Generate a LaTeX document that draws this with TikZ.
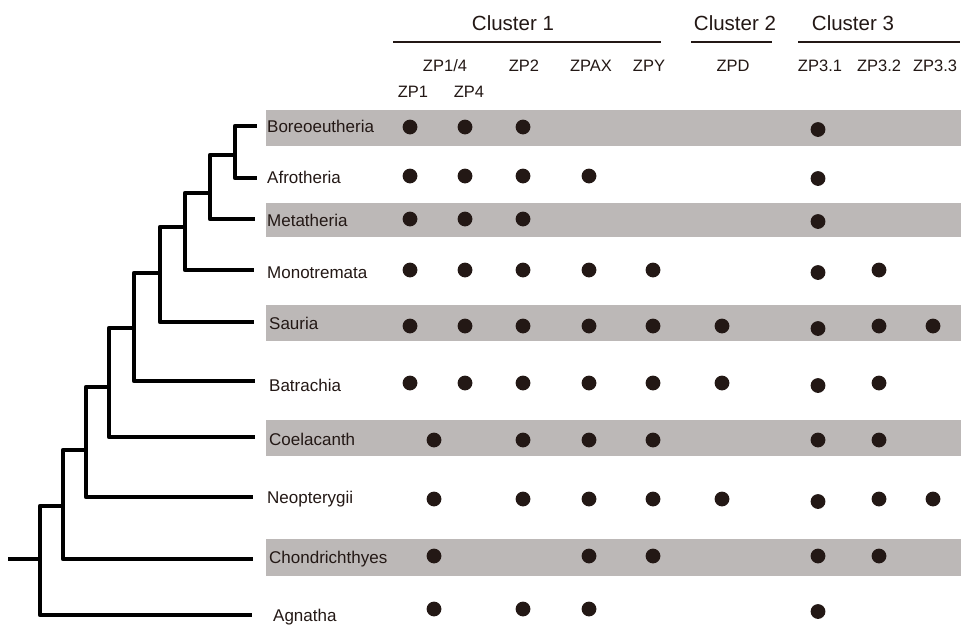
\documentclass[tikz,border=0pt]{standalone}
\usepackage{fontspec}
\setmainfont{Liberation Sans}
\definecolor{ink}{HTML}{231815}
\definecolor{bandgrey}{HTML}{BCB8B7}
\begin{document}
\begin{tikzpicture}[x=1pt,y=-1pt,
  branch/.style={line width=4.2pt,black,line join=round},
  rule/.style={line width=1.9pt,ink},
  band/.style={fill=bandgrey,draw=none},
  dot/.style={circle,fill=ink,draw=none,inner sep=0pt,minimum size=14.8pt},
  lowdot/.style={dot,yshift=-2.5pt},
  taxon/.style={anchor=base west,inner sep=0pt,text=ink,font=\fontsize{17}{19}\selectfont},
  colhead/.style={anchor=base,inner sep=0pt,text=ink,font=\fontsize{16.5}{18}\selectfont},
  cluster/.style={anchor=base,inner sep=0pt,text=ink,font=\fontsize{20.5}{24}\selectfont}]
\useasboundingbox (0,0) rectangle (961,627);
\fill[white] (0,0) rectangle (961,627);

% bands
\fill[band] (266,110) rectangle (961,146);
\fill[band] (266,203) rectangle (961,237);
\fill[band] (266,305) rectangle (961,341);
\fill[band] (266,420) rectangle (961,456);
\fill[band] (266,539) rectangle (961,576);

% cluster headers
\node[cluster] (k1) at (513,30) {Cluster 1};
\node[cluster] (k2) at (735,30) {Cluster 2};
\node[cluster] (k3) at (853,30) {Cluster 3};
\coordinate (k1a) at (393,42); \coordinate (k1b) at (661,42);
\coordinate (k2a) at (691,42); \coordinate (k2b) at (772,42);
\coordinate (k3a) at (798,42); \coordinate (k3b) at (960,42);
\draw[rule] (k1a) -- (k1b);
\draw[rule] (k2a) -- (k2b);
\draw[rule] (k3a) -- (k3b);

% column headers
\node[colhead] (hZP14) at (445,71) {ZP1/4};
\node[colhead] (hZP2)  at (524,71) {ZP2};
\node[colhead] (hZPAX) at (591,71) {ZPAX};
\node[colhead] (hZPY)  at (649,71) {ZPY};
\node[colhead] (hZPD)  at (733,71) {ZPD};
\node[colhead] (hZP31) at (820,71) {ZP3.1};
\node[colhead] (hZP32) at (879,71) {ZP3.2};
\node[colhead] (hZP33) at (935,71) {ZP3.3};
\node[colhead] (hZP1)  at (413,97) {ZP1};
\node[colhead] (hZP4)  at (469,97) {ZP4};

% column positions
\coordinate (cZP1)  at (410,0);
\coordinate (cZP14) at (434,0);
\coordinate (cZP4)  at (465,0);
\coordinate (cZP2)  at (523,0);
\coordinate (cZPAX) at (589,0);
\coordinate (cZPY)  at (653,0);
\coordinate (cZPD)  at (722,0);
\coordinate (cZP31) at (818,0);
\coordinate (cZP32) at (879,0);
\coordinate (cZP33) at (933,0);

% row positions
\coordinate (rBor) at (0,127);
\coordinate (rAfr) at (0,176);
\coordinate (rMet) at (0,219);
\coordinate (rMon) at (0,270);
\coordinate (rSau) at (0,326);
\coordinate (rBat) at (0,383);
\coordinate (rCoe) at (0,440);
\coordinate (rNeo) at (0,499);
\coordinate (rCho) at (0,556);
\coordinate (rAgn) at (0,609);

% dots
\foreach \r/\cols in {
  Bor/{ZP1,ZP4,ZP2},
  Afr/{ZP1,ZP4,ZP2,ZPAX},
  Met/{ZP1,ZP4,ZP2},
  Mon/{ZP1,ZP4,ZP2,ZPAX,ZPY,ZP32},
  Sau/{ZP1,ZP4,ZP2,ZPAX,ZPY,ZPD,ZP32,ZP33},
  Bat/{ZP1,ZP4,ZP2,ZPAX,ZPY,ZPD,ZP32},
  Coe/{ZP14,ZP2,ZPAX,ZPY,ZP32},
  Neo/{ZP14,ZP2,ZPAX,ZPY,ZPD,ZP32,ZP33},
  Cho/{ZP14,ZPAX,ZPY,ZP32},
  Agn/{ZP14,ZP2,ZPAX}}{
  \foreach \c in \cols {
    \node[dot] (d-\r-\c) at (c\c |- r\r) {};
  }
}
% ZP3.1 column sits a little lower
\foreach \r in {Bor,Afr,Met,Mon,Sau,Bat,Neo,Agn}{
  \node[lowdot] (d-\r-ZP31) at (cZP31 |- r\r) {};
}
\foreach \r in {Coe,Cho}{
  \node[dot] (d-\r-ZP31) at (cZP31 |- r\r) {};
}

% taxon labels
\node[taxon] (tBor) at (267,132) {Boreoeutheria};
\node[taxon] (tAfr) at (267,183) {Afrotheria};
\node[taxon] (tMet) at (267,226) {Metatheria};
\node[taxon] (tMon) at (267,278) {Monotremata};
\node[taxon] (tSau) at (269,329) {Sauria};
\node[taxon] (tBat) at (269,391) {Batrachia};
\node[taxon] (tCoe) at (269,445) {Coelacanth};
\node[taxon] (tNeo) at (267,503) {Neopterygii};
\node[taxon] (tCho) at (269,563) {Chondrichthyes};
\node[taxon] (tAgn) at (273,621) {Agnatha};

% tree
\coordinate (lBor) at (257,126);
\coordinate (lAfr) at (257,178);
\coordinate (lMet) at (255,219);
\coordinate (lMon) at (254,270);
\coordinate (lSau) at (254,322);
\coordinate (lBat) at (255,381);
\coordinate (lCoe) at (255,437);
\coordinate (lNeo) at (253,497);
\coordinate (lCho) at (253,559);
\coordinate (lAgn) at (252,615);
\coordinate (nA) at (235,155);
\coordinate (nB) at (210,193);
\coordinate (nC) at (185,227);
\coordinate (nD) at (160,273);
\coordinate (nE) at (134,328);
\coordinate (nF) at (109,387);
\coordinate (nG) at (86,450);
\coordinate (nH) at (63,506);
\coordinate (root) at (40,559);
\coordinate (stem) at (8,559);

\draw[branch] (nA) |- (lBor);
\draw[branch] (nA) |- (lAfr);
\draw[branch] (nB) |- (nA);
\draw[branch] (nB) |- (lMet);
\draw[branch] (nC) |- (nB);
\draw[branch] (nC) |- (lMon);
\draw[branch] (nD) |- (nC);
\draw[branch] (nD) |- (lSau);
\draw[branch] (nE) |- (nD);
\draw[branch] (nE) |- (lBat);
\draw[branch] (nF) |- (nE);
\draw[branch] (nF) |- (lCoe);
\draw[branch] (nG) |- (nF);
\draw[branch] (nG) |- (lNeo);
\draw[branch] (nH) |- (nG);
\draw[branch] (nH) |- (lCho);
\draw[branch] (root) |- (nH);
\draw[branch] (root) |- (lAgn);
\draw[branch] (stem) -- (root);
\end{tikzpicture}
\end{document}
